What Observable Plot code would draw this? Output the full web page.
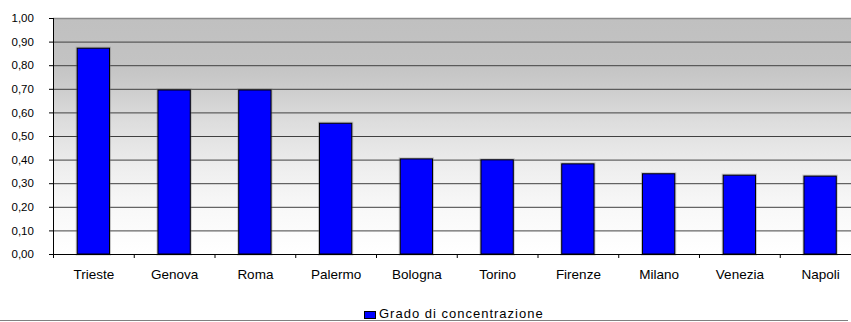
<!DOCTYPE html>
<html>
<head>
<meta charset="utf-8">
<script src="https://cdn.jsdelivr.net/npm/d3@7"></script>
<script src="https://cdn.jsdelivr.net/npm/@observablehq/plot@0.6"></script>
<style>
  html, body { margin: 0; padding: 0; background: #ffffff; overflow: hidden; }
  #chart svg { display: block; }
  #legend { position: relative; width: 851px; height: 22px; font-family: "Liberation Sans", Arial, sans-serif; }
  #legend .swatch { position: absolute; left: 364px; top: 11px; width: 10px; height: 6px; background: #0000ff; border: 1px solid #000000; }
  #legend .label { position: absolute; left: 379px; top: 6px; font-size: 13px; letter-spacing: 1px; line-height: 15px; color: #000000; white-space: nowrap; }
  #legend .rule { position: absolute; left: 0; top: 20px; width: 848px; height: 1px; background: #808080; }
</style>
</head>
<body>
<div id="chart"></div>
<div id="legend"></div>
<script>
// Grado di concentrazione per città
const cities = ["Trieste", "Genova", "Roma", "Palermo", "Bologna", "Torino", "Firenze", "Milano", "Venezia", "Napoli"];
const values = [0.872, 0.695, 0.695, 0.554, 0.403, 0.399, 0.382, 0.34, 0.334, 0.33];
const yTicks = [0, 0.1, 0.2, 0.3, 0.4, 0.5, 0.6, 0.7, 0.8, 0.9, 1.0];
const seriesName = "Grado di concentrazione";

const rows = cities.map((c, i) => ({city: c, value: values[i]}));
const fmt = d => d3.format(".2f")(d).replace(".", ",");

// Grey-to-white gradient behind the plotting area
function background(index, scales, vals, dims) {
  const {width, height, marginLeft, marginTop, marginBottom, marginRight} = dims;
  const g = d3.create("svg:g");
  const grad = g.append("defs").append("linearGradient")
    .attr("id", "plotBg").attr("x1", 0).attr("y1", 0).attr("x2", 0).attr("y2", 1);
  [[0, "#c0c0c0"], [0.2, "#c3c3c3"], [0.3, "#cdcdcd"], [0.45, "#dedede"],
   [0.65, "#efefef"], [0.8, "#f8f8f8"], [1, "#ffffff"]].forEach(([o, c]) =>
    grad.append("stop").attr("offset", o).attr("stop-color", c));
  g.append("rect")
    .attr("x", marginLeft).attr("y", marginTop)
    .attr("width", width - marginLeft - marginRight)
    .attr("height", height - marginTop - marginBottom)
    .attr("fill", "url(#plotBg)");
  return g.node();
}

const step = 80.75;

const chart = Plot.plot({
  width: 851,
  height: 300,
  marginLeft: 53,
  marginRight: 0,
  marginTop: 18,
  marginBottom: 46,
  style: {fontFamily: "'Liberation Sans', Arial, sans-serif", background: "transparent", overflow: "visible"},
  x: {domain: cities, range: [53, 53 + step * cities.length], paddingInner: 0.6, paddingOuter: 0.3, round: false, axis: null},
  y: {domain: [0, 1], axis: null},
  marks: [
    background,
    // horizontal gridlines
    Plot.ruleY(yTicks.slice(1, -1), {stroke: "#404040", strokeWidth: 1}),
    Plot.ruleY([1], {stroke: "#8a8a8a", strokeWidth: 1.5}),
    // y tick marks
    Plot.axisY({ticks: yTicks, tickSize: 4, tickFormat: () => "", label: null, stroke: "#000000", strokeOpacity: 1}),
    // y tick labels
    Plot.text(yTicks, {y: d => d, text: fmt, frameAnchor: "left", dx: -42, textAnchor: "start",
      fontSize: 11.5, fill: "#000000", style: "letter-spacing:0.6px"}),
    // bar shadows and bars
    Plot.barY(rows, {x: "city", y: "value", fill: "none", stroke: "#707070", strokeWidth: 3, strokeOpacity: 0.35}),
    Plot.barY(rows, {x: "city", y: "value", fill: "#0000ff", stroke: "#000000", strokeWidth: 1}),
    // axes lines
    Plot.ruleY([0], {stroke: "#000000", strokeWidth: 1}),
    Plot.frame({anchor: "left", stroke: "#000000"}),
    // category boundary ticks
    Plot.ruleX(cities, {x: d => d, y1: 0, y2: -0.017, dx: step / 2, stroke: "#000000"}),
    Plot.ruleX(cities.slice(0, 1), {x: d => d, y1: 0, y2: -0.017, dx: -step / 2, stroke: "#000000"}),
    // category labels
    Plot.text(cities, {x: d => d, text: d => d, frameAnchor: "bottom", dy: 20, lineAnchor: "middle",
      fontSize: 13.5, fill: "#000000", style: "letter-spacing:0.5px"})
  ]
});

document.getElementById("chart").appendChild(chart);

const legend = document.getElementById("legend");
legend.innerHTML = `<div class="swatch"></div><div class="label">${seriesName}</div><div class="rule"></div>`;
</script>
</body>
</html>
